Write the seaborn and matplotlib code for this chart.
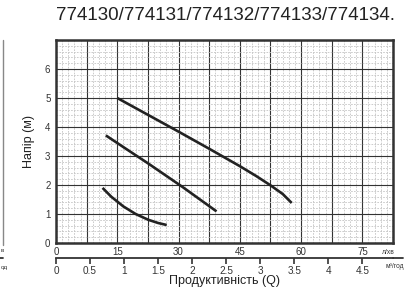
import matplotlib
matplotlib.use("Agg")
import matplotlib.pyplot as plt
import matplotlib.ticker as mticker
from matplotlib.lines import Line2D
import pandas as pd
import seaborn as sns

# pump curves: flow (l/min) vs head (m)
flow_top = [15, 22.5, 30, 37.5, 45, 49, 52.5, 55.5, 57.7]
head_top = [5.0, 4.42, 3.84, 3.25, 2.65, 2.31, 1.99, 1.69, 1.38]
flow_mid = [12.2, 17, 22.6, 31.1, 39.3]
head_mid = [3.71, 3.26, 2.74, 1.92, 1.09]
flow_low = [11.4, 13.5, 16.5, 19.5, 22.6, 25, 27.1]
head_low = [1.9, 1.6, 1.26, 1.0, 0.8, 0.69, 0.62]

lmin_ticks = [0, 15, 30, 45, 60, 75]
m3h_ticks = [0, 0.5, 1, 1.5, 2, 2.5, 3, 3.5, 4, 4.5]
head_ticks = [0, 1, 2, 3, 4, 5, 6]
title = "774130/774131/774132/774133/774134."

df = pd.concat([
    pd.DataFrame({"flow": flow_top, "head": head_top, "curve": "top"}),
    pd.DataFrame({"flow": flow_mid, "head": head_mid, "curve": "mid"}),
    pd.DataFrame({"flow": flow_low, "head": head_low, "curve": "low"}),
])

sns.set_theme(style="white")
plt.rcParams["font.family"] = ["Liberation Sans", "DejaVu Sans"]

W, H = 414, 296
fig = plt.figure(figsize=(W / 100, H / 100), dpi=100)
L, R, T, B = 56, 393, 40, 243
ax = fig.add_axes([L / W, 1 - B / H, (R - L) / W, (B - T) / H])

sns.lineplot(data=df, x="flow", y="head", units="curve", estimator=None,
             sort=False, color="#222222", linewidth=1.9, ax=ax,
             solid_capstyle="butt")

ax.set_xlim(0, 82.5)
ax.set_ylim(0, 7)

# grid
ax.xaxis.set_major_locator(mticker.MultipleLocator(7.5))
ax.xaxis.set_minor_locator(mticker.MultipleLocator(1.5))
ax.yaxis.set_major_locator(mticker.MultipleLocator(1))
ax.yaxis.set_minor_locator(mticker.MultipleLocator(0.2))
ax.grid(True, which="major", color="#333333", linewidth=0.8)
ax.grid(True, which="minor", color="#c4c4c4", linewidth=0.6, linestyle=(0, (2, 1.5)))
ax.set_axisbelow(True)

ax.xaxis.set_major_formatter(mticker.FuncFormatter(
    lambda v, p: f"{v:g}" if round(v) in lmin_ticks and abs(v - round(v)) < 1e-6 else ""))
ax.yaxis.set_major_formatter(mticker.FuncFormatter(
    lambda v, p: f"{v:g}" if v in head_ticks else ""))
ax.tick_params(axis="both", which="both", length=0, labelsize=7, colors="#333333")
ax.tick_params(axis="x", pad=3)
ax.tick_params(axis="y", pad=4)
for s in ax.spines.values():
    s.set_color("#333333")
    s.set_linewidth(1.8)
ax.set_xlabel("")
ax.set_ylabel("Напір (м)", fontsize=9, color="#222222", labelpad=7)

# second flow scale in m3/h
sec = ax.secondary_xaxis(-15 / (B - T), functions=(lambda x: x * 0.06, lambda x: x / 0.06))
sec.set_xticks(m3h_ticks)
sec.set_xticklabels([f"{v:g}" for v in m3h_ticks])
sec.tick_params(direction="out", length=4, width=1.2, labelsize=7.2, colors="#333333", pad=1.5)
sec.spines["bottom"].set_linewidth(1.3)
sec.spines["bottom"].set_color("#333333")
fig.add_artist(Line2D([R / W, 403 / W], [1 - 258 / H] * 2, color="#333333", linewidth=1.3))

fig.text(382 / W, 1 - 252 / H, "л/хв", fontsize=4.8, color="#333333", va="center")
fig.text(386 / W, 1 - 267 / H, "м³/год", fontsize=4.8, color="#333333", va="center")
fig.text((L + R) / 2 / W, 1 - 281 / H, "Продуктивність (Q)", fontsize=9,
         color="#222222", ha="center", va="center")
fig.text(395 / W, 1 - 15 / H, title, fontsize=13.5, color="#222222", ha="right", va="center")

# pieces of the neighbouring chart cut off at the left edge
fig.add_artist(Line2D([3 / W] * 2, [1 - 40 / H, 1 - 245 / H], color="#888888", linewidth=1))
fig.add_artist(Line2D([0, 3 / W], [1 - 258 / H] * 2, color="#333333", linewidth=1.3))
fig.text(0.5 / W, 1 - 251 / H, "в", fontsize=4.5, color="#333333", ha="left", va="center")
fig.text(0.5 / W, 1 - 267 / H, "од", fontsize=4.5, color="#333333", ha="left", va="center")

fig.savefig("out.png", dpi=100, facecolor="white")
